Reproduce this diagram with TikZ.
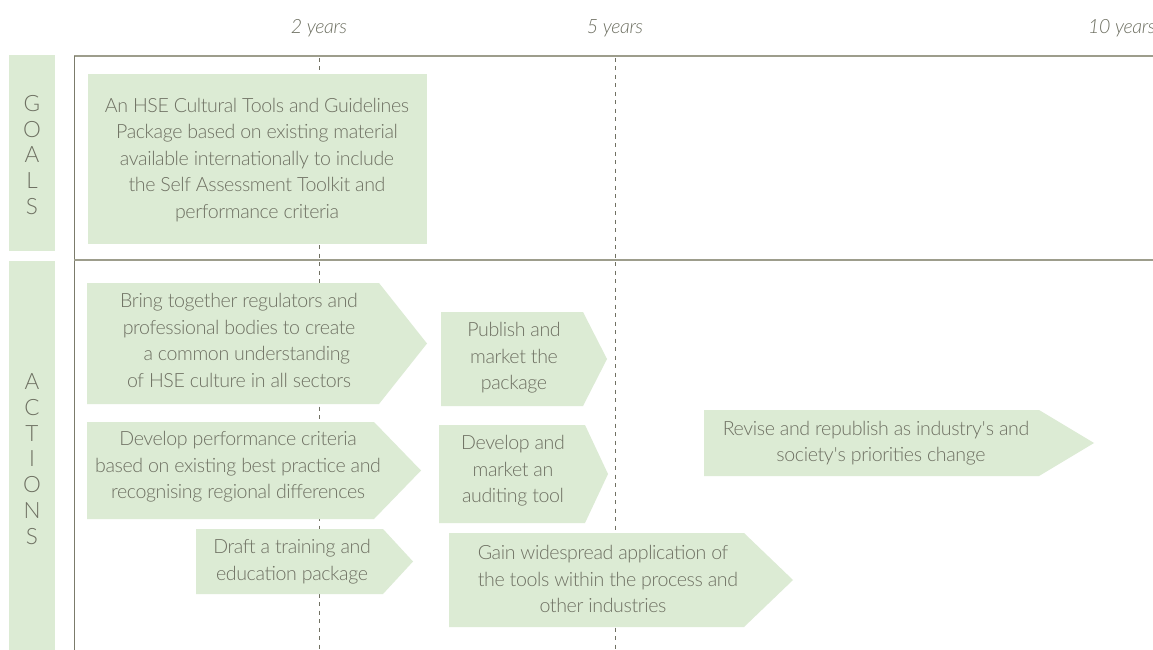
\documentclass[tikz,border=0pt]{standalone}
\usepackage{fontspec}
\setmainfont{Lato}[UprightFont=* Light, ItalicFont=* Light Italic]
\newfontfamily\bodyfont{Lato}[UprightFont=* Light, ItalicFont=* Light Italic, LetterSpace=-2]
\definecolor{boxgreen}{HTML}{DCEBD4}
\definecolor{txtgray}{HTML}{6E7062}
\definecolor{linegray}{HTML}{9D9D8C}
\definecolor{vlinegray}{HTML}{7B7B6B}
\definecolor{dashgray}{HTML}{707062}
\begin{document}
\begin{tikzpicture}[x=1pt,y=-1pt,
  bodytext/.style={text=txtgray, align=center, font=\bodyfont\fontsize{19.6}{26.5}\selectfont, inner sep=0pt},
  yeartext/.style={text=txtgray, font=\bodyfont\fontsize{19.6}{24}\selectfont\itshape, inner sep=0pt},
  sidetext/.style={text=txtgray, align=center, font=\fontsize{22.5}{25.8}\selectfont, inner sep=0pt},
  greenfill/.style={fill=boxgreen, draw=none},
  dashline/.style={draw=dashgray, line width=0.8pt, dash pattern=on 4pt off 4.5pt}]
\useasboundingbox (0,0) rectangle (1153,650);
\fill[white] (0,0) rectangle (1153,650);

% time markers
\node[yeartext] (y2) at (319,28) {2 years};
\node[yeartext] (y5) at (615,28) {5 years};
\node[yeartext, anchor=west] (y10) at (1088,28) {10 years};

% dashed time lines
\coordinate (d2t) at (319,58);
\coordinate (d2b) at (319,650);
\coordinate (d5t) at (615,58);
\coordinate (d5b) at (615,650);
\draw[dashline] (d2t) -- (d2b);
\draw[dashline] (d5t) -- (d5b);

% frame lines
\coordinate (tl) at (74,56);
\coordinate (tr) at (1153,56);
\coordinate (bl) at (74,650);
\coordinate (ml) at (74,260);
\coordinate (mr) at (1153,260);
\draw[draw=linegray, line width=1.6pt] (tl) -- (tr);
\draw[draw=vlinegray, line width=1pt] (tl) -- (bl);
\draw[draw=linegray, line width=1.1pt] (ml) -- (mr);

% side labels
\fill[greenfill] (9,55) rectangle (55,251);
\fill[greenfill] (9,261) rectangle (55,650);
\node[sidetext] (goals) at (32,155) {G\\O\\A\\L\\S};
\node[sidetext] (actions) at (32,459) {A\\C\\T\\I\\O\\N\\S};

% goal box
\fill[greenfill] (88,74) rectangle (427,244);
\node[bodytext] (goal) at (257,160) {An HSE Cultural Tools and Guidelines\\Package based on existing material\\available internationally to include\\the Self Assessment Toolkit and\\performance criteria};

% action arrows
\fill[greenfill] (87,283) -- (379,283) -- (427,343.5) -- (379,404) -- (87,404) -- cycle;
\node[bodytext] (a1) at (239,340.5) {Bring together regulators and\\professional bodies to create\\\hspace*{0.8em}a common understanding\\of HSE culture in all sectors};

\fill[greenfill] (441,312) -- (583,312) -- (607,359) -- (583,406) -- (441,406) -- cycle;
\node[bodytext] (a2) at (514,358) {Publish and\\market the\\package};

\fill[greenfill] (87,422) -- (374,422) -- (421,470.5) -- (374,519) -- (87,519) -- cycle;
\node[bodytext] (a3) at (238,467) {Develop performance criteria\\based on existing best practice and\\recognising regional differences};

\fill[greenfill] (196,529) -- (383,529) -- (413,561.5) -- (383,594) -- (196,594) -- cycle;
\node[bodytext] (a4) at (292,561.5) {Draft a training and\\education package};

\fill[greenfill] (439,425) -- (585,425) -- (608,474) -- (585,523) -- (439,523) -- cycle;
\node[bodytext] (a5) at (513,471) {Develop and\\market an\\auditing tool};

\fill[greenfill] (449,533) -- (744,533) -- (793,580) -- (744,627) -- (449,627) -- cycle;
\node[bodytext] (a6) at (603,579) {Gain widespread application of\\\hspace*{0.5em}the tools within the process and\\other industries};

\fill[greenfill] (704,410) -- (1039,410) -- (1094,443) -- (1039,476) -- (704,476) -- cycle;
\node[bodytext] (a7) at (876,443) {Revise and republish as industry\textquotesingle s and\\\hspace*{0.5em}society\textquotesingle s priorities change};
\end{tikzpicture}
\end{document}
